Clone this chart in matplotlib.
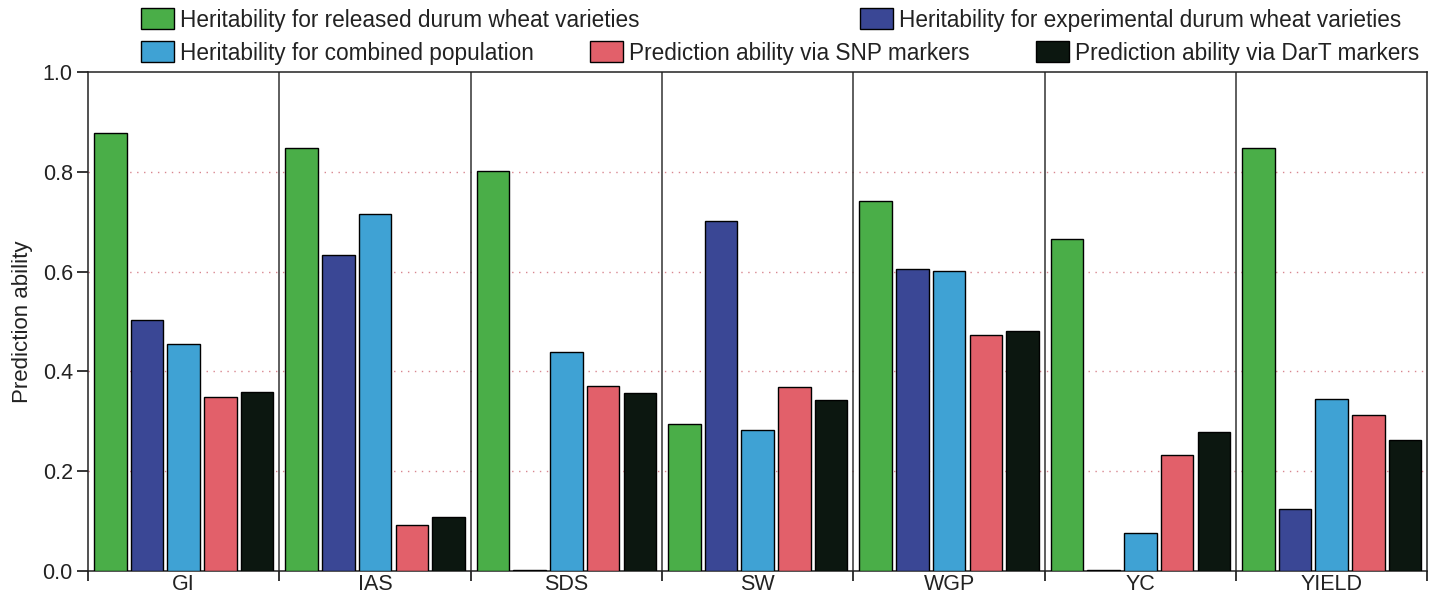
"""
Heritability and prediction ability per trait, grouped bar chart.
"""

import numpy as np
import matplotlib.pyplot as plt
from matplotlib.ticker import FixedLocator


# ---------------------------------------------------------------------
# Data
# ---------------------------------------------------------------------

traits = ["GI", "IAS", "SDS", "SW", "WGP", "YC", "YIELD"]

h2_released = [0.878, 0.847, 0.802, 0.295, 0.741, 0.666, 0.848]
h2_experimental = [0.503, 0.633, 0.002, 0.702, 0.606, 0.002, 0.125]
h2_combined = [0.454, 0.715, 0.438, 0.283, 0.601, 0.076, 0.345]
pa_snp = [0.348, 0.093, 0.370, 0.369, 0.474, 0.233, 0.313]
pa_dart = [0.358, 0.108, 0.356, 0.342, 0.481, 0.279, 0.263]

series_labels = [
    "Heritability for released durum wheat varieties",
    "Heritability for experimental durum wheat varieties",
    "Heritability for combined population",
    "Prediction ability via SNP markers",
    "Prediction ability via DarT markers",
]

y_ticks = [0.0, 0.2, 0.4, 0.6, 0.8, 1.0]


# ---------------------------------------------------------------------
# Style
# ---------------------------------------------------------------------

cores = ["#4aae48", "#3a4795", "#3fa2d4", "#e2606a", "#0c1710"]

plt.rcParams["font.family"] = ["Liberation Sans", "DejaVu Sans"]

fig = plt.figure(figsize=(14.34, 5.96), dpi=100)
ax = fig.add_axes([0.0614, 0.042, 0.934, 0.837])

series = [h2_released, h2_experimental, h2_combined, pa_snp, pa_dart]
x = np.arange(len(traits))
passo = 0.192
largura = 0.17

barras = []
for i, (valores, cor) in enumerate(zip(series, cores)):
    offset = (i - 2) * passo
    b = ax.bar(
        x + offset,
        valores,
        width=largura,
        color=cor,
        edgecolor="black",
        linewidth=1.0,
        zorder=3,
    )
    barras.append(b)

# separadores entre grupos
for limite in np.arange(0.5, len(traits) - 1, 1.0):
    ax.axvline(limite, color="#333333", linewidth=1.1, zorder=2)

# linhas de grelha pontilhadas
for y in y_ticks[1:-1]:
    ax.axhline(y, color="#d8868f", linewidth=1.0, linestyle=(0, (1, 4)), zorder=1)

ax.set_xlim(-0.5, len(traits) - 0.5)
ax.set_ylim(0, 1.0)

ax.set_yticks(y_ticks)
ax.set_yticklabels([f"{v:.1f}" for v in y_ticks], fontsize=15.5, color="#222222")
ax.set_xticks(x)
ax.set_xticklabels(traits, fontsize=15.5, color="#222222")
ax.xaxis.set_minor_locator(FixedLocator(np.arange(-0.5, len(traits), 1.0)))
ax.tick_params(axis="x", which="major", length=0, pad=2)
ax.tick_params(axis="x", which="minor", length=7, width=1.1, direction="out")
ax.tick_params(axis="y", length=8, width=1.1, direction="out", pad=3)

for lado in ["left", "right", "top", "bottom"]:
    ax.spines[lado].set_linewidth(1.1)
    ax.spines[lado].set_color("#222222")

ax.set_ylabel("Prediction ability", fontsize=16, color="#222222")
ax.yaxis.set_label_coords(-0.041, 0.5)

# legenda em duas linhas, com posições livres
W, H = 1434, 596
posicoes = [
    (141, 20),
    (860, 20),
    (141, 53),
    (590, 53),
    (1036, 53),
]
for b, rotulo, (px, py) in zip(barras, series_labels, posicoes):
    fig.legend(
        handles=[b],
        labels=[rotulo],
        loc="center left",
        bbox_to_anchor=(px / W, 1 - py / H),
        frameon=False,
        prop={"size": 16.3},
        labelcolor="#222222",
        handlelength=1.46,
        handleheight=1.06,
        handletextpad=0.27,
        borderpad=0.0,
        borderaxespad=0.0,
    )

fig.savefig("out.png", dpi=100, facecolor="white")
plt.close(fig)
